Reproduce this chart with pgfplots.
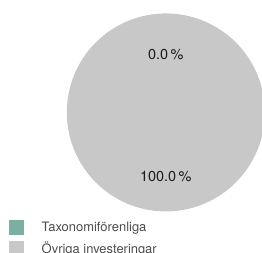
\documentclass[border=0pt]{standalone}
\usepackage{pgfplots}
\usepackage{pgfplotstable}
\pgfplotsset{compat=1.18}
\usepackage{fontspec}
\setmainfont{TeX Gyre Heros}
\definecolor{taxo}{HTML}{7AB0A2}
\definecolor{ovr}{HTML}{C8C8C8}
\definecolor{legtxt}{HTML}{4D4D4D}
\definecolor{lbltxt}{HTML}{1A1A1A}

% share of investments (%)
\pgfplotstableread{
name value
Taxonomiforenliga 0.0
Ovriga 100.0
}\piedata

\begin{document}
\begin{tikzpicture}[x=1bp,y=1bp]
\useasboundingbox (0,0) rectangle (262,253);
\pgfplotstablegetelem{0}{value}\of\piedata \edef\va{\pgfplotsretval}
\pgfplotstablegetelem{1}{value}\of\piedata \edef\vb{\pgfplotsretval}
\pgfmathsetmacro\aS{90}
\pgfmathsetmacro\aE{90-3.6*\va}
\pgfmathsetmacro\bE{\aE-3.6*\vb}
\pgfmathsetmacro\ma{(\aS+\aE)/2}
\pgfmathsetmacro\mb{(\aE+\bE)/2}
\begin{axis}[
  at={(67.5,42)}, anchor=south west,
  scale only axis, width=198bp, height=198bp,
  xmin=-1, xmax=1, ymin=-1, ymax=1,
  hide axis, clip=false,
  legend image code/.code={\fill[#1] (0bp,-7bp) rectangle (14bp,7bp); \path (32bp,0bp);},
  legend style={at={(axis description cs:-0.2904,-0.0455)}, anchor=north west,
    draw=none, fill=none, inner sep=0pt, outer sep=0pt,
    row sep=6bp, column sep=0pt,
    font=\fontsize{13}{15}\selectfont, text=legtxt,
    cells={anchor=west}, nodes={inner sep=0pt}},
]
\ifdim\va pt>0pt
\fill[taxo] (axis cs:0,0) -- ++(\aS:99bp) arc[start angle=\aS, end angle=\aE, radius=99bp] -- cycle;
\fi
\ifdim\vb pt>0pt
\fill[ovr] (axis cs:0,0) -- ++(\aE:99bp) arc[start angle=\aE, end angle=\bE, radius=99bp] -- cycle;
\fi
\node[text=lbltxt, font=\fontsize{14.5}{16}\selectfont, inner sep=0pt] at (axis cs:{0.58*cos(\ma)},{0.58*sin(\ma)}) {\pgfmathprintnumber[fixed, fixed zerofill, precision=1, assume math mode=true]{\va}\,\%};
\node[text=lbltxt, font=\fontsize{14.5}{16}\selectfont, inner sep=0pt] at (axis cs:{0.645*cos(\mb)},{0.645*sin(\mb)}) {\pgfmathprintnumber[fixed, fixed zerofill, precision=1, assume math mode=true]{\vb}\,\%};
\addlegendimage{taxo}
\addlegendentry{Taxonomiförenliga}
\addlegendimage{ovr}
\addlegendentry{Övriga investeringar}
\end{axis}
\end{tikzpicture}
\end{document}
